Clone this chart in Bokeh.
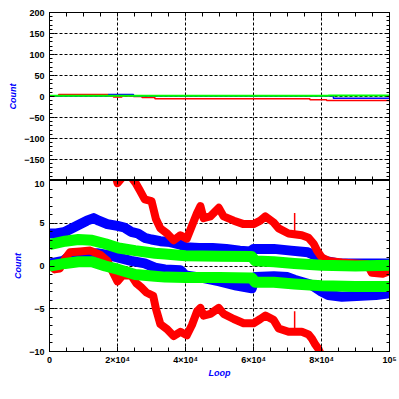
from bokeh.plotting import figure
from bokeh.layouts import column
from bokeh.models import Range1d, LinearAxis, SingleIntervalTicker, FixedTicker
from bokeh.embed import file_html
from bokeh.resources import INLINE

# ---------------- data ----------------
x_tick_values = [0, 20000, 40000, 60000, 80000, 100000]
x_tick_labels = ["0", "2×10⁴", "4×10⁴", "6×10⁴", "8×10⁴", "10⁵"]
x_minor_ticks = list(range(0, 100001, 5000))
top_y_minor_ticks = list(range(-200, 201, 10))
bot_y_minor_ticks = list(range(-10, 11, 1))

# top panel (mean values, step lines)
top_red_x = [0, 2700, 17400, 18800, 21300, 24700, 27200, 31000, 76600, 81500, 100000]
top_red_y = [1, 5, 1, -1, 1, 0, -2.5, -5.5, -7.5, -9.5, -9.5]
top_blue_x = [0, 17400, 24700, 83500, 100000]
top_blue_y = [1, 5, 1, -4, -4]
top_green_x = [0, 82000, 100000]
top_green_y = [1.5, 2.5, 2.5]

# bottom panel bands
red_up_x = [0, 5000, 10000, 15000, 18500, 19500, 20000, 21500, 24000, 25500, 26500, 28000,
            30000, 31300, 32600, 34600, 36500, 38500, 40400, 41900, 43400, 44400, 45300,
            47300, 49800, 51200, 54200, 57100, 60000, 62000, 63500, 65900, 67400, 70300,
            74200, 76200, 77700, 78700, 80100, 82100, 86000, 90000, 93500, 94800, 98000, 100000]
red_up_y = [11.5, 13.0, 13.2, 12.8, 11.8, 10.5, 9.7, 10.4, 10.4, 9.6, 8.9, 7.8,
            7.6, 5.5, 4.4, 3.8, 3.0, 3.6, 3.2, 4.7, 6.2, 7.0, 5.6,
            5.8, 6.8, 5.8, 5.3, 4.9, 4.9, 5.3, 5.8, 5.1, 4.4, 3.8,
            3.6, 3.3, 2.6, 1.8, 1.0, 0.6, 0.4, 0.3, 0.2, -0.8, -0.9, -0.6]

red_lo_x = [0, 1500, 3000, 4500, 6000, 9000, 12000, 15000, 17000, 18500, 20000, 21500, 24000,
            25500, 27000, 28500, 30500, 31300, 32600, 34600, 36500, 38500, 40400, 41900,
            43400, 44400, 45300, 47300, 49800, 51200, 54200, 57100, 60000, 62000, 63500,
            65900, 67400, 70300, 74200, 76200, 77200, 78200, 79100, 80100, 82000, 90000, 100000]
red_lo_y = [0.3, -0.4, -0.3, 0.8, 1.6, 1.7, 1.8, 1.3, 0.6, -0.6, -1.8, -1.1, -1.1,
            -2.0, -2.5, -3.1, -3.5, -5.0, -6.8, -7.4, -8.2, -7.7, -8.1, -6.9,
            -5.3, -4.9, -5.8, -5.6, -4.9, -5.6, -6.2, -6.7, -6.7, -6.2, -5.8,
            -6.3, -7.3, -7.7, -7.7, -8.0, -8.5, -9.2, -9.7, -10.6, -11.0, -11.3, -12.5]

red_spike_x = [72100]
red_spike_up_base = [3.8]
red_spike_up_top = [6.2]
red_spike_lo_base = [-7.7]
red_spike_lo_top = [-5.3]

blue_up_x = [0, 2000, 4600, 8500, 11000, 13000, 14500, 17000, 20000, 22000, 24000, 26000,
             28000, 30000, 32600, 35500, 38500, 40000, 44000, 48000, 52000, 56000, 59000,
             60000, 62000, 66000, 71000, 76000, 79000, 81000, 85000, 100000]
blue_up_y = [3.8, 3.8, 4.0, 4.8, 5.3, 5.6, 5.3, 4.9, 4.7, 4.5, 4.0, 3.8,
             3.3, 3.1, 2.9, 2.8, 2.5, 2.2, 2.1, 2.1, 2.0, 1.8, 1.7,
             2.0, 2.0, 2.0, 1.8, 1.6, 1.1, 0.6, 0.3, 0.3]

blue_lo_x = [0, 4000, 6000, 10000, 14000, 17000, 20000, 24000, 28000, 31000, 34000, 38500,
             40000, 45000, 50000, 55000, 59500, 60500, 66000, 70000, 72000, 77000, 80000,
             82000, 86000, 96000, 100000]
blue_lo_y = [0.3, 0.6, 1.2, 1.4, 1.5, 1.3, 1.0, 0.6, 0.3, -0.2, -0.4, -0.5,
             -1.1, -1.4, -1.8, -2.3, -2.6, -1.3, -1.2, -1.3, -1.6, -2.2, -3.0,
             -3.4, -3.6, -3.4, -3.2]

green_up_x = [0, 4600, 8500, 12500, 16400, 20300, 25200, 31000, 34000, 40000, 50000, 59500,
              60500, 66000, 72000, 80000, 90000, 100000]
green_up_y = [2.5, 2.9, 3.1, 3.0, 2.6, 2.1, 1.8, 1.5, 1.4, 1.2, 1.15, 1.1,
              0.6, 0.5, 0.3, 0.1, 0.0, 0.1]

green_lo_x = [0, 4600, 8500, 12500, 16400, 20300, 25200, 31000, 34000, 40000, 50000, 59500,
              60500, 66000, 72000, 80000, 90000, 100000]
green_lo_y = [0.0, 0.3, 0.5, 0.5, 0.0, -0.4, -1.0, -1.2, -1.3, -1.35, -1.35, -1.4,
              -1.9, -1.9, -2.1, -2.3, -2.4, -2.4]

RED = "#ff0000"
BLUE = "#0000ff"
GREEN = "#00ff00"
FONT = "Liberation Sans"

x_range = Range1d(0, 100000)


def style_axis(ax, ticker, overrides=None, minor_len=3, standoff=5):
    ax.ticker = ticker
    ax.axis_line_color = "black"
    ax.axis_line_width = 1
    ax.major_tick_in = 5
    ax.major_tick_out = 0
    ax.minor_tick_in = minor_len
    ax.minor_tick_out = 0
    ax.major_tick_line_color = "black"
    ax.minor_tick_line_color = "black"
    ax.major_label_text_font = FONT
    ax.major_label_text_font_style = "bold"
    ax.major_label_text_font_size = "9px"
    ax.major_label_text_color = "black"
    ax.major_label_standoff = standoff
    if overrides:
        ax.major_label_overrides = overrides


def hidden_axis(ax, minor_positions, tick_len):
    # tick marks only (no labels): only minor ticks are used
    ax.ticker = FixedTicker(ticks=[], minor_ticks=minor_positions)
    ax.axis_line_color = "black"
    ax.major_tick_in = 0
    ax.major_tick_out = 0
    ax.minor_tick_in = tick_len
    ax.minor_tick_out = 0
    ax.minor_tick_line_color = "black"
    ax.major_label_standoff = 0
    ax.axis_label = None


def style_axis_label(ax, text, standoff):
    ax.axis_label = text
    ax.axis_label_text_font = FONT
    ax.axis_label_text_font_style = "bold italic"
    ax.axis_label_text_font_size = "9px"
    ax.axis_label_text_color = BLUE
    ax.axis_label_standoff = standoff


def style_grid(p, xticker, yticker):
    p.xgrid.ticker = xticker
    p.ygrid.ticker = yticker
    for g in (p.xgrid, p.ygrid):
        g.grid_line_color = "black"
        g.grid_line_dash = "3 2"
        g.grid_line_width = 1


def x_ticker():
    return SingleIntervalTicker(interval=20000, num_minor_ticks=4)


# ---------------- top panel ----------------
top = figure(width=399, height=180, x_range=x_range, y_range=Range1d(-200, 200),
             output_backend="svg", toolbar_location=None,
             min_border_left=49, min_border_right=10, min_border_top=12, min_border_bottom=0,
             background_fill_color="white", border_fill_color="white")
top.outline_line_color = "black"
hidden_axis(top.xaxis[0], x_minor_ticks, 4)
top_y_ticker = SingleIntervalTicker(interval=50, num_minor_ticks=5)
style_axis(top.yaxis[0], top_y_ticker, overrides={-200: ""})
style_axis_label(top.yaxis[0], "Count", 3)
ax_r = LinearAxis()
hidden_axis(ax_r, top_y_minor_ticks, 3)
top.add_layout(ax_r, "right")
ax_t = LinearAxis()
hidden_axis(ax_t, x_minor_ticks, 4)
top.add_layout(ax_t, "above")
style_grid(top, x_ticker(), SingleIntervalTicker(interval=50, num_minor_ticks=5))

top.step(top_red_x, top_red_y, mode="after", line_color=RED, line_width=1.5)
top.step(top_blue_x, top_blue_y, mode="after", line_color=BLUE, line_width=1.5)
top.step(top_green_x, top_green_y, mode="after", line_color=GREEN, line_width=2)

# ---------------- bottom panel ----------------
bot = figure(width=399, height=211, x_range=x_range, y_range=Range1d(-10, 10),
             output_backend="svg", toolbar_location=None,
             min_border_left=49, min_border_right=10, min_border_top=0, min_border_bottom=40,
             background_fill_color="white", border_fill_color="white")
bot.outline_line_color = "black"
style_axis(bot.xaxis[0], x_ticker(),
           overrides={v: t for v, t in zip(x_tick_values, x_tick_labels)}, minor_len=4, standoff=3)
style_axis_label(bot.xaxis[0], "Loop", 0)
style_axis(bot.yaxis[0], SingleIntervalTicker(interval=5, num_minor_ticks=5))
style_axis_label(bot.yaxis[0], "Count", 3)
bx_r = LinearAxis()
hidden_axis(bx_r, bot_y_minor_ticks, 3)
bot.add_layout(bx_r, "right")
bx_t = LinearAxis()
hidden_axis(bx_t, x_minor_ticks, 4)
bot.add_layout(bx_t, "above")
style_grid(bot, x_ticker(), SingleIntervalTicker(interval=5, num_minor_ticks=5))

bot.line(blue_up_x, blue_up_y, line_color=BLUE, line_width=10, line_join="round")
bot.line(blue_lo_x, blue_lo_y, line_color=BLUE, line_width=10, line_join="round")
bot.line(red_up_x, red_up_y, line_color=RED, line_width=8, line_join="round")
bot.line(red_lo_x, red_lo_y, line_color=RED, line_width=8, line_join="round")
bot.segment(red_spike_x, red_spike_up_base, red_spike_x, red_spike_up_top, line_color=RED, line_width=1.5)
bot.segment(red_spike_x, red_spike_lo_base, red_spike_x, red_spike_lo_top, line_color=RED, line_width=1.5)
bot.line(green_up_x, green_up_y, line_color=GREEN, line_width=11, line_join="round")
bot.line(green_lo_x, green_lo_y, line_color=GREEN, line_width=11, line_join="round")

layout = column(top, bot, spacing=0)
open("out.html", "w").write(file_html(layout, INLINE))
